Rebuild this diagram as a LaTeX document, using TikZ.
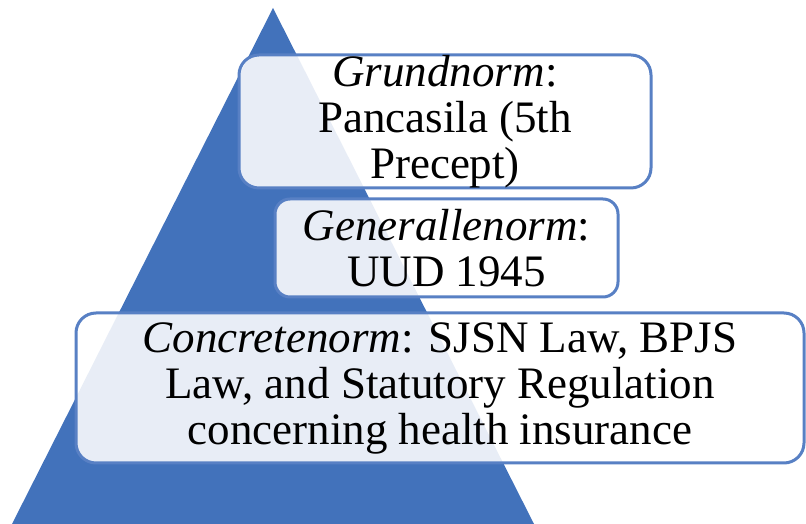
\documentclass[tikz,border=0pt]{standalone}
\usepackage{fontspec}
\setmainfont{LiberationSerif}[
    Extension=.ttf,
    UprightFont=*-Regular,
    ItalicFont=*-Italic,
    BoldFont=*-Bold,
    BoldItalicFont=*-BoldItalic]
\usetikzlibrary{calc}
\definecolor{PyramidFill}{RGB}{66,114,187}
\definecolor{PyramidFrame}{RGB}{88,128,196}
\definecolor{PyramidInk}{gray}{0}
\tikzset{
    pyramid/diagram/.style={
        font=\fontsize{45}{46}\selectfont,
        text=PyramidInk,
        line join=round,
        every node/.style={inner sep=0pt, outer sep=0pt}
    },
    pyramid/body/.style={fill=PyramidFill, draw=none},
    pyramid/level/.style={
        draw=PyramidFrame, line width=3pt,
        fill=white, fill opacity=0.88, text opacity=1,
        align=center
    },
    pyramid/top/.style={pyramid/level, rounded corners=20pt,
        minimum width=412pt, minimum height=133pt},
    pyramid/middle/.style={pyramid/level, rounded corners=15pt,
        minimum width=343pt, minimum height=98pt},
    pyramid/base/.style={pyramid/level, rounded corners=20pt,
        minimum width=728pt, minimum height=150pt}
}
\begin{document}
\begin{tikzpicture}[pyramid/diagram, x=1pt, y=1pt]
    \useasboundingbox (0,0) rectangle (806,524);
    \def\PyramidOutline{(273,516) -- (534,0) -- (12,0) -- cycle}
    \fill[pyramid/body] \PyramidOutline;
    \node[pyramid/top] (grund) at (445,402.5)
        {\textit{Grundnorm}:\\Pancasila (5th\\Precept)};
    \node[pyramid/middle] (general) at (446.5,276)
        {\textit{Generallenorm}:\\UUD 1945};
    \node[pyramid/base] (concrete) at (440,136)
        {\textit{Concretenorm}: SJSN Law, BPJS\\Law, and Statutory Regulation\\concerning health insurance};
\end{tikzpicture}
\end{document}
